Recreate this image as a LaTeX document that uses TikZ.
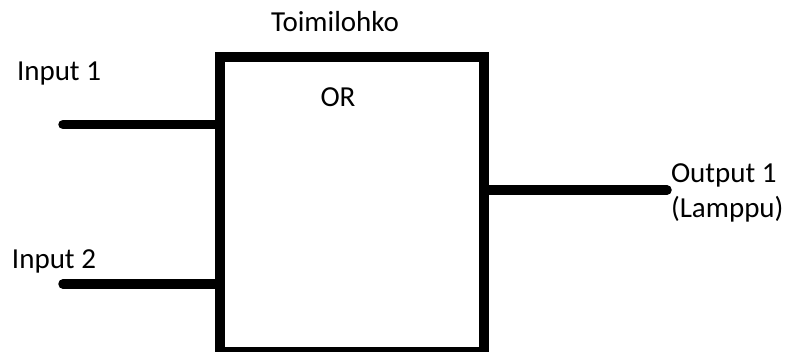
\documentclass[tikz,border=0pt]{standalone}
\usepackage{fontspec}
\setmainfont{Carlito}
\begin{document}
\begin{tikzpicture}[x=1pt,y=-1pt,
  wire/.style={line width=9.5pt,line cap=round},
  gatebox/.style={draw,line width=9.5pt,miter limit=10,outer sep=0pt,inner sep=0pt,
    minimum width=264pt,minimum height=295pt},
  lbl/.style={inner sep=0pt,outer sep=0pt,font=\fontsize{29}{34}\selectfont,text=black}]
\useasboundingbox (0,0) rectangle (794,351);
\clip (0,0) rectangle (794,351);
\node[gatebox] (box) at (352,204.5) {};
\node[lbl,anchor=base] (title) at (335,31) {Toimilohko};
\node[lbl,anchor=base] (or) at (338,106) {OR};
\node[lbl,anchor=base west] (i1) at (17,80) {Input 1};
\node[lbl,anchor=base west] (i2) at (12,268) {Input 2};
\node[lbl,anchor=base west] (o1) at (671,182) {Output 1};
\node[lbl,anchor=base west] (o1b) at (671,217) {(Lamppu)};
\coordinate (in1) at (63,124.5);
\coordinate (in2) at (63,284);
\coordinate (out1) at (667,190);
\draw[wire] (in1) -- (box.west |- in1);
\draw[wire] (in2) -- (box.west |- in2);
\draw[wire] (box.east |- out1) -- (out1);
\end{tikzpicture}
\end{document}
